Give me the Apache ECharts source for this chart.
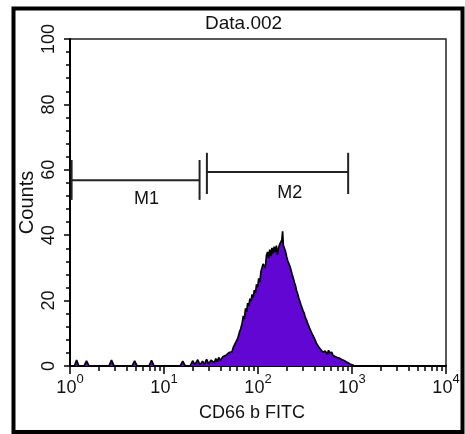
<!DOCTYPE html>
<html>
<head>
<meta charset="utf-8">
<script src="https://cdn.jsdelivr.net/npm/echarts@6/dist/echarts.min.js"></script>
<style>
html,body{margin:0;padding:0;background:#fff;}
#c{width:465px;height:434px;}
</style>
</head>
<body>
<div id="c"></div>
<script>
// ---- data ----
const titleText = 'Data.002';
const xName = 'CD66 b FITC';
const yName = 'Counts';
const xMajorTicks = [1, 10, 100, 1000, 10000];
const xMinorTicks = [2,3,4,5,6,7,8,9,20,30,40,50,60,70,80,90,200,300,400,500,600,700,800,900,2000,3000,4000,5000,6000,7000,8000,9000];
const yTicks = [0, 20, 40, 60, 80, 100];
// histogram: channel (0-1024 over 4 decades) and counts
const channels = [0,12,18,24,38,45,52,106,113,120,169,176,183,215,222,229,300,307,314,327,334,340,348,354,361,366,372,378,384,389,393,397,401,405,409,413,417,421,425,429,433,437,441,445,449,453,457,461,465,469,472,475,478,481,484,487,490,493,496,499,502,505,508,511,514,517,520,523,526,529,532,535,538,541,544,547,550,553,556,559,562,565,568,571,574,577,579,581,584,587,590,593,596,599,602,605,608,611,614,617,620,623,626,629,632,635,638,641,644,647,650,653,656,659,662,665,668,671,674,677,680,683,686,689,692,695,698,701,704,707,710,713,716,719,722,725,728,731,734,737,740,743,746,749,752,755,758,761,764,767,770,773,776,1023];
const counts = [0,0,1.8,0,0,1.6,0,0,1.8,0,0,1.6,0,0,1.7,0,0,1.5,0,0,1.6,0.4,1.9,0.3,1.5,0.5,2.0,0.6,1.8,2.1,1.0,2.3,1.3,2.6,1.7,2.2,2.9,2.3,3.3,3.5,4.1,4.7,4.3,5.8,6.3,7.6,8.5,10.2,11.4,13.2,15.3,14.4,17.6,16.6,19.2,18.4,20.6,19.8,21.9,21.0,23.2,22.3,25.0,24.1,26.8,25.6,28.9,29.4,31.2,31.6,30.0,33.8,34.9,33.0,35.6,33.6,36.1,34.4,36.5,34.8,36.8,34.0,36.1,37.2,37.8,38.6,41.2,36.9,36.6,35.0,33.4,32.2,31.9,30.5,29.3,28.0,26.9,25.6,24.6,23.1,22.1,20.8,20.5,18.7,18.5,16.8,16.1,14.8,14.1,13.1,12.3,11.4,10.8,9.9,9.5,8.6,8.0,7.0,6.7,5.9,5.7,5.0,4.9,4.2,4.0,4.6,4.3,3.5,4.8,4.1,3.6,4.2,3.3,3.9,2.9,3.5,2.6,3.2,2.4,2.9,2.0,2.5,1.7,2.0,1.3,1.6,0.9,1.4,0.5,1.1,0.3,0.9,0,0];
// markers (fluorescence values on log axis, count levels)
const markerNames = ['M1', 'M2'];
const markerStart = [1.04, 28.6];
const markerEnd = [23.9, 910];
const markerLevel = [56.8, 59.3];
const markerBarLow = [50.8, 52.6];
const markerBarHigh = [63.0, 65.2];
const markerLabelX = [6.5, 218];
const markerLabelY = [51.1, 52.9];

const FONT = '"Liberation Sans", Arial, sans-serif';
const histData = channels.map((c, i) => [c, counts[i]]);
const markerData = markerNames.map((n, i) => [markerStart[i], markerEnd[i], markerLevel[i], markerBarLow[i], markerBarHigh[i], markerLabelX[i], markerLabelY[i]]);

const chart = echarts.init(document.getElementById('c'), null, {renderer: 'canvas'});
chart.setOption({
  backgroundColor: '#fff',
  animation: false,
  title: {
    text: titleText, left: 200, top: 9,
    textStyle: {fontFamily: FONT, fontSize: 19, fontWeight: 'normal', color: '#111'}
  },
  grid: {left: 70, top: 39, right: 19, bottom: 68, show: true, borderColor: '#222', borderWidth: 1.5, backgroundColor: 'transparent'},
  xAxis: [
    {
      type: 'log', logBase: 10, min: 1, max: 10000, position: 'bottom',
      axisLine: {lineStyle: {color: '#000', width: 2}},
      axisTick: {length: 8, lineStyle: {color: '#000', width: 1.5}, customValues: xMajorTicks},
      axisLabel: {
        margin: 11, customValues: xMajorTicks,
        formatter: v => '{b|10}{s|' + Math.round(Math.log10(v)) + '}',
        rich: {
          b: {fontFamily: FONT, fontSize: 18, color: '#111', lineHeight: 20, verticalAlign: 'bottom'},
          s: {fontFamily: FONT, fontSize: 13, color: '#111', lineHeight: 13, verticalAlign: 'bottom', padding: [0, 0, 11, 0]}
        }
      },
      splitLine: {show: false},
      name: xName, nameLocation: 'middle', nameGap: 38, nameMoveOverlap: false,
      nameTextStyle: {fontFamily: FONT, fontSize: 18, color: '#111', padding: [0, 12, 0, 0]}
    },
    {
      type: 'log', logBase: 10, min: 1, max: 10000, position: 'bottom',
      axisLine: {show: false},
      axisTick: {length: 5, lineStyle: {color: '#000', width: 1.5}, customValues: xMinorTicks},
      axisLabel: {show: false},
      splitLine: {show: false}
    },
    {
      type: 'value', min: 0, max: 1024, show: false
    }
  ],
  yAxis: {
    type: 'value', min: 0, max: 100, interval: 20,
    axisLine: {show: true, lineStyle: {color: '#000', width: 2}},
    axisTick: {show: true, length: 6, lineStyle: {color: '#000', width: 1.5}},
    minorTick: {show: true, splitNumber: 5, length: 4, lineStyle: {color: '#000', width: 1.5}},
    axisLabel: {rotate: 90, margin: 12, fontFamily: FONT, fontSize: 18, color: '#111', customValues: yTicks},
    splitLine: {show: false},
    name: yName, nameLocation: 'middle', nameGap: 33, nameMoveOverlap: false,
    nameTextStyle: {fontFamily: FONT, fontSize: 20, color: '#111'}
  },
  series: [
    {
      type: 'line', xAxisIndex: 2, data: histData, showSymbol: false, symbol: 'none',
      lineStyle: {color: '#000', width: 1.7},
      areaStyle: {color: '#6206d4', opacity: 1},
      z: 3
    },
    {
      type: 'custom', xAxisIndex: 0, data: markerData,
      encode: {x: [0, 1, 5], y: [2, 3, 4, 6]},
      renderItem: function (params, api) {
        const s = api.value(0), e = api.value(1), lv = api.value(2), lo = api.value(3), hi = api.value(4);
        const pL = api.coord([s, lv]), pR = api.coord([e, lv]);
        const sLo = api.coord([s, lo]), sHi = api.coord([s, hi]);
        const eLo = api.coord([e, lo]), eHi = api.coord([e, hi]);
        const lab = api.coord([api.value(5), api.value(6)]);
        const st = {stroke: '#222', lineWidth: 2};
        return {
          type: 'group',
          children: [
            {type: 'line', shape: {x1: pL[0], y1: pL[1], x2: pR[0], y2: pR[1]}, style: st},
            {type: 'line', shape: {x1: sLo[0], y1: sLo[1], x2: sHi[0], y2: sHi[1]}, style: st},
            {type: 'line', shape: {x1: eLo[0], y1: eLo[1], x2: eHi[0], y2: eHi[1]}, style: st},
            {type: 'text', x: lab[0], y: lab[1], style: {text: markerNames[params.dataIndex], fontFamily: FONT, fontSize: 18, fill: '#111', align: 'center', verticalAlign: 'middle'}}
          ]
        };
      },
      z: 4
    }
  ],
  graphic: [
    {type: 'rect', shape: {x: 13.5, y: 8.5, width: 449, height: 423.5}, style: {fill: 'none', stroke: '#000', lineWidth: 4}, z: 10}
  ]
});
</script>
</body>
</html>
